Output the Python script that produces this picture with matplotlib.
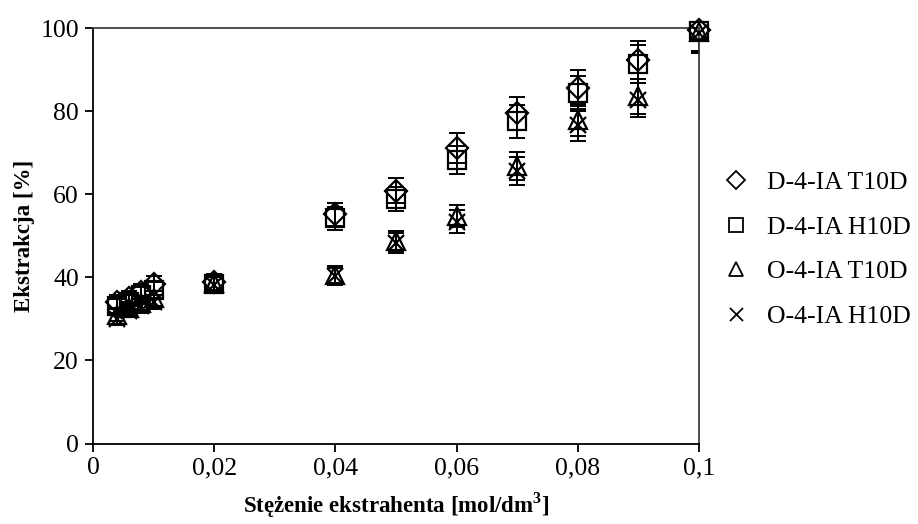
import matplotlib
matplotlib.use("Agg")
import matplotlib.pyplot as plt

plt.rcParams['font.family'] = ['Liberation Serif', 'DejaVu Serif']
plt.rcParams['mathtext.fontset'] = 'custom'
plt.rcParams['mathtext.rm'] = 'Liberation Serif'
plt.rcParams['mathtext.bf'] = 'Liberation Serif:bold'

conc = [0.004, 0.006, 0.008, 0.010, 0.02, 0.04, 0.05, 0.06, 0.07, 0.08, 0.09, 0.10]

d_t10d = [34.0, 35.0, 36.5, 38.5, 38.8, 55.2, 60.8, 71.2, 79.5, 85.5, 92.3, 99.5]
d_h10d = [33.0, 34.0, 35.8, 37.0, 38.3, 54.2, 58.8, 68.2, 77.5, 84.3, 91.3, 99.2]
o_t10d = [31.0, 32.5, 33.8, 35.0, 38.6, 40.6, 48.8, 54.8, 66.8, 77.9, 83.6, 99.0]
o_h10d = [30.0, 32.0, 33.0, 34.0, 38.2, 40.2, 48.2, 53.4, 65.6, 76.6, 82.7, 98.8]

d_t10d_err = [1.7, 1.8, 1.8, 1.9, 1.9, 2.8, 3.0, 3.6, 4.0, 4.3, 4.6, 5.0]
d_h10d_err = [1.7, 1.7, 1.8, 1.9, 1.9, 2.7, 2.9, 3.4, 3.9, 4.2, 4.6, 5.0]
o_t10d_err = [1.6, 1.6, 1.7, 1.8, 1.9, 2.0, 2.4, 2.7, 3.3, 3.9, 4.2, 5.0]
o_h10d_err = [1.5, 1.6, 1.7, 1.7, 1.9, 2.0, 2.4, 2.7, 3.3, 3.8, 4.1, 4.9]

labels = ['D-4-IA T10D', 'D-4-IA H10D', 'O-4-IA T10D', 'O-4-IA H10D']
series = [d_t10d, d_h10d, o_t10d, o_h10d]
errors = [d_t10d_err, d_h10d_err, o_t10d_err, o_h10d_err]
markers = ['D', 's', '^', 'x']
msizes = [11.5, 13, 13, 12]

x_ticks = [0, 0.02, 0.04, 0.06, 0.08, 0.1]
x_tick_labels = ['0', '0,02', '0,04', '0,06', '0,08', '0,1']
y_ticks = [0, 20, 40, 60, 80, 100]

FS = 18.5
LFS = 16.5

fig = plt.figure(figsize=(9.18, 5.24), dpi=100)
ax = fig.add_axes([93/918, 1 - 443.5/524, (699-93)/918, (443.5-28)/524])

for y, e, m, ms, lab in zip(series, errors, markers, msizes, labels):
    ax.errorbar(conc, y, yerr=e, fmt='none', ecolor='black', elinewidth=1.4,
                capsize=5.5, capthick=1.4, zorder=2)
    ax.plot(conc, y, linestyle='none', marker=m, markersize=ms,
            markerfacecolor='none', markeredgecolor='black',
            markeredgewidth=1.6, label=lab, zorder=3, clip_on=False)

ax.set_xlim(0, 0.1)
ax.set_ylim(0, 100)
ax.set_xticks(x_ticks)
ax.set_xticklabels(x_tick_labels)
ax.set_yticks(y_ticks)
ax.tick_params(direction='out', length=6, width=1.3, labelsize=FS, pad=4,
               top=False, right=False)
for s in ax.spines.values():
    s.set_linewidth(1.3)
ax.spines['top'].set_color('#404040')
ax.spines['right'].set_color('#404040')

ax.set_xlabel('Stężenie ekstrahenta [mol/dm$^\\mathbf{3}$]', fontsize=LFS,
              fontweight='bold', labelpad=8)
ax.set_ylabel('Ekstrakcja [%]', fontsize=LFS, fontweight='bold', labelpad=4)

leg_handles = []
for m, ms in zip(markers, msizes):
    leg_handles.append(plt.Line2D([], [], linestyle='none', marker=m,
                                  markersize=ms * 0.78, markerfacecolor='none',
                                  markeredgecolor='black', markeredgewidth=1.3))
fig.legend(leg_handles, labels, loc='center left',
           bbox_to_anchor=(720/918, 1 - 249.5/524), frameon=False, fontsize=FS,
           labelspacing=0.85, handlelength=1.245, handletextpad=0.58,
           borderpad=0, borderaxespad=0)

fig.savefig('out.png', dpi=100)
